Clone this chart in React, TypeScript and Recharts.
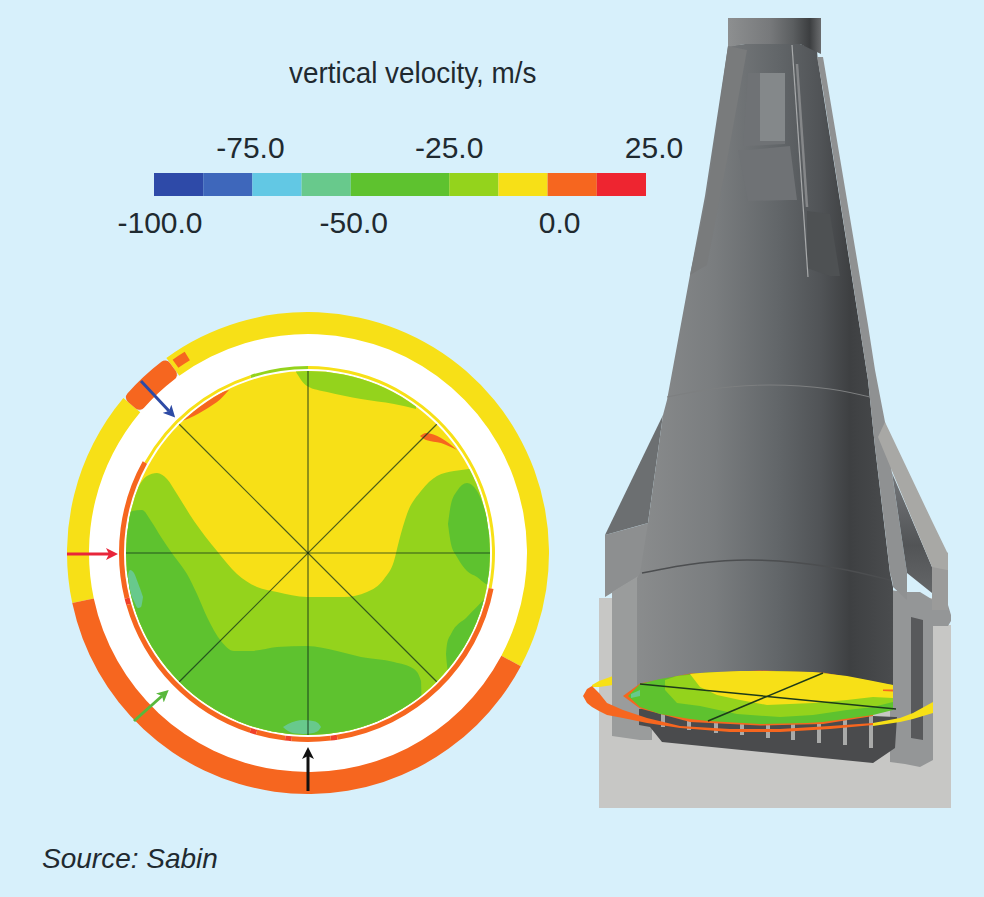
import { Area, Bar, BarChart, Cell, ComposedChart, Line, Pie, PieChart, XAxis, YAxis } from "recharts";

const BG = "#d7f0fb";
const INK = "#1f2a30";
const ORANGE = "#f6661f";
const YELLOW = "#f7e017";
const LIGHT_GREEN = "#94d31c";
const GREEN = "#5ec22f";
const TEAL = "#68c98c";
const FLECK = "#f0402a";

type Row = [number, number, number]; // x, low, high

// colour scale
const scaleColors = ["#2e4aa8", "#3e67bb", "#62c8e4", "#68c98c", GREEN, GREEN, LIGHT_GREEN, YELLOW, ORANGE, "#ee2530"];
const scaleSteps = [12.5, 12.5, 12.5, 12.5, 12.5, 12.5, 12.5, 12.5, 12.5, 12.5];
const upperTicks = [-75, -25, 25];
const lowerTicks = [-100, -50, 0];
const tickNudge: Record<number, number> = { [-100]: 6, [-75]: -2, [-50]: 3, [-25]: 0, 0: 12, 25: 8 };

// outer ring, degrees counter clockwise from -28
const outerRingDeg = [154, 14, 52, 140];
const outerRingColors = [YELLOW, "none", YELLOW, ORANGE];
const ringBlobDeg = [154, 14, 192];
const ringDotDeg = [149.5, 3.5, 207];
// thin ring round the disk, degrees counter clockwise from -11
const thinRingDeg = [101, 18, 43, 198];
const thinRingColors = [YELLOW, LIGHT_GREEN, YELLOW, "none"];
const rimDeg = [162, 43, 2, 56, 2, 9, 2, 12, 2, 70];
const rimColors = ["none", ORANGE, FLECK, ORANGE, FLECK, ORANGE, FLECK, ORANGE, FLECK, ORANGE];

// disk contours, units are pixels from the disk centre
const diskAll: Row[] = [[-182, -182, 182], [182, -182, 182]];
const lightBand: Row[] = [
  [-182, -182, 40], [-172, -182, 62], [-161, -182, 77], [-151, -182, 80], [-141, -182, 74], [-131, -182, 59],
  [-114, -182, 32], [-91, -182, 2], [-71, -182, -21], [-51, -182, -34], [-31, -182, -39], [-1, -182, -44],
  [36, -182, -44], [59, -182, -39], [76, -182, -26], [86, -182, -8], [91, -182, 12], [99, -182, 39],
  [113, -182, 62], [129, -182, 77], [146, -182, 82], [161, -182, 84], [182, -182, 90],
];
const darkLower: Row[] = [
  [-182, -182, 36], [-176, -182, 42], [-166, -182, 43], [-157, -182, 32], [-147, -182, 16], [-134, -182, -3],
  [-121, -182, -21], [-111, -182, -41], [-101, -182, -64], [-87, -182, -88], [-74, -182, -98], [-57, -182, -98],
  [-31, -182, -94], [-1, -182, -93], [29, -182, -98], [53, -182, -104], [86, -182, -109], [106, -182, -116],
  [113, -182, -128], [113.5, -182, -146],
];
const darkRightUpper: Row[] = [
  [140, 29, 29], [143, 9, 49], [149, -4, 62], [159, -18, 70], [169, -24, 62], [178, -31, 39], [183, -33, 19],
];
const darkRightLower: Row[] = [
  [138, -101, -101], [139, -112, -91], [143, -130, -81], [159, -130, -64], [178, -130, -44], [183, -130, -38],
];
const lightTop: Row[] = [
  [-12, 181, 190], [-1, 167, 190], [19, 161, 190], [53, 154, 190], [86, 149, 190], [108, 144, 190],
];
const tealLeft: Row[] = [
  [-180, -22, -22], [-178, -37, -17], [-174, -48, -20], [-170, -55, -30], [-167, -54, -38], [-165, -44, -44],
];
const tealBottom: Row[] = [
  [-25, -174, -174], [-20, -178, -171], [-12, -180.5, -168], [-5, -181, -167], [5, -180, -168], [10, -178, -170], [13, -174, -174],
];
const sliverLeft: Row[] = [[-126, 132, 132], [-114, 137, 143], [-97, 147, 156], [-91, 151, 159], [-79, 163, 163]];
const sliverRight: Row[] = [[112, 117, 117], [118, 113, 120], [133, 110, 115], [149, 103, 103]];

const diskLayers: { rows: Row[]; fill: string }[] = [
  { rows: diskAll, fill: YELLOW },
  { rows: lightBand, fill: LIGHT_GREEN },
  { rows: lightTop, fill: LIGHT_GREEN },
  { rows: darkLower, fill: GREEN },
  { rows: darkRightUpper, fill: GREEN },
  { rows: darkRightLower, fill: GREEN },
  { rows: tealLeft, fill: TEAL },
  { rows: tealBottom, fill: TEAL },
  { rows: sliverLeft, fill: ORANGE },
  { rows: sliverRight, fill: ORANGE },
];

const spokes = [
  [[-182, 0], [182, 0]],
  [[0, -182], [0, 182]],
  [[-129, 129], [129, -129]],
  [[-129, -129], [129, 129]],
];

const arrows = [
  { pts: [[-241, -1], [-199, -1]], color: "#e8263a", id: "headRed", w: 3 },
  { pts: [[-167, 172], [-139, 142]], color: "#2d4aa5", id: "headBlue", w: 3 },
  { pts: [[-174, -168], [-146, -143]], color: "#59b83c", id: "headGreen", w: 3 },
  { pts: [[0, -238], [0, -203]], color: "#111111", id: "headBlack", w: 3 },
];

// burner drawing, page pixels, low and high are y values
const baseBox: Row[] = [[599, 598, 808], [933, 598, 808], [933, 625, 808], [951, 625, 808]];
const finUpper: Row[] = [[605, 535, 535], [648, 446, 523], [663, 415, 415]];
const finLower: Row[] = [[605, 535, 597], [638, 526, 577], [648, 523, 577]];
const towerLeft: Row[] = [[612, 592, 736], [640, 575, 740], [652, 575, 740]];
const darkPanel: Row[] = [[892, 473, 473], [907, 508, 573], [932, 567, 593]];
const strut: Row[] = [[878, 437, 437], [885, 422, 454], [932, 521, 567], [947, 552, 570], [948, 553, 570]];
const strutFoot: Row[] = [[932, 565, 610], [948, 553, 610]];
const towerRight: Row[] = [[890, 590, 762], [905, 592, 764], [920, 592, 767], [933, 600, 760], [933, 605, 626], [948, 605, 626], [951, 615, 621]];
const slot: Row[] = [[911, 617, 738], [923, 620, 740]];
const body: Row[] = [
  [637, 578, 690], [640, 573, 690], [648, 523, 690], [663, 415, 690], [667, 400, 690], [690, 275, 690], [705, 196, 690],
  [728, 46, 690], [745, 44, 690], [800, 44, 690], [817, 50, 690], [817.5, 57, 690], [868, 380, 690], [875, 447, 690], [890, 573, 690], [893, 587, 690],
];
const neck: Row[] = [[728, 18, 47], [745, 18, 44], [800, 18, 44], [821, 18, 54]];
const coneLeftPatch: Row[] = [[690, 275, 275], [707, 196, 265], [728, 46, 155], [747, 50, 50]];
const panelA: Row[] = [[743, 146, 146], [748, 73, 146], [785, 73, 144]];
const panelAInner: Row[] = [[760, 73, 141], [785, 73, 141]];
const panelB: Row[] = [[738, 150, 150], [748, 150, 201], [790, 146, 200], [797, 200, 200]];
const panelDark: Row[] = [[807, 211, 268], [830, 214, 276], [840, 276, 276]];
const rightStrip: Row[] = [
  [817, 57, 57], [823, 57, 90], [868, 325, 380], [875, 370, 447], [885, 422, 530], [890, 460, 573], [892, 473, 580], [893, 480, 587], [907, 573, 600],
];
const platform: Row[] = [[639, 709, 725], [650, 709, 727], [662, 709, 742], [873, 716, 763], [895, 717, 748], [897, 717, 717]];
const vanes: Row[][] = [
  [[661, 712, 727], [665, 712, 727]], [[687, 712, 730], [691, 712, 730]], [[714, 715, 733], [718, 715, 733]],
  [[740, 715, 735], [744, 715, 735]], [[766, 715, 738], [770, 715, 738]], [[791, 715, 740], [795, 715, 740]],
  [[817, 715, 743], [821, 715, 743]], [[843, 715, 745], [847, 715, 745]], [[869, 715, 748], [873, 715, 748]],
];
const ringArmLeft: Row[] = [[592, 685, 687], [599, 681, 687], [613, 676, 685]];
const ringOrangeBand: Row[] = [
  [583, 696, 696], [587, 689, 703], [592, 686, 707], [599, 693, 711], [607, 703, 715], [623, 710, 718], [647, 718, 723],
  [680, 726, 728], [730, 729, 732], [780, 729, 732], [830, 726, 729], [873, 723, 725],
];
const ringArmRight: Row[] = [[873, 723, 726], [900, 718, 722], [913, 713, 719], [933, 702, 713]];
const flatRim: Row[] = [[623, 696, 696], [640, 683.5, 708.5], [690, 673.5, 722], [760, 670.5, 725.5], [823, 672.5, 724], [873, 681.5, 716]];
const flatDisk: Row[] = [
  [628, 696, 696], [640, 684, 707], [660, 679, 714], [690, 674, 719], [708, 672.5, 721], [760, 671, 724],
  [807, 672, 723], [823, 673, 722], [873, 682, 715], [893, 685, 710],
];
const flatLight: Row[] = [
  [665, 680, 690], [677, 676, 703], [700, 674, 706], [737, 680, 714], [780, 680, 717], [813, 690, 715], [847, 690, 710], [873, 690, 707], [893, 695, 702],
];
const flatYellow: Row[] = [
  [690, 674, 674], [700, 673, 687], [717, 672, 695], [740, 671, 700], [767, 671, 705], [813, 672, 703], [847, 676, 700], [873, 681, 697], [893, 685, 698],
];
const flatTeal: Row[] = [[631, 694, 698], [640, 690, 696]];
const flatSliver: Row[] = [[883, 689.5, 691], [893, 689.5, 691.5]];

const burnerLayers: { rows: Row[]; fill: string }[] = [
  { rows: baseBox, fill: "#c7c7c5" },
  { rows: finLower, fill: "#8d8f90" },
  { rows: finUpper, fill: "#6c6f71" },
  { rows: ringArmLeft, fill: YELLOW },
  { rows: towerLeft, fill: "#9a9c9c" },
  { rows: towerRight, fill: "#949697" },
  { rows: slot, fill: "#58595b" },
  { rows: body, fill: "url(#bodyShade)" },
  { rows: neck, fill: "url(#neckShade)" },
  { rows: coneLeftPatch, fill: "#797b7c" },
  { rows: panelA, fill: "#6f7275" },
  { rows: panelAInner, fill: "#84888a" },
  { rows: panelB, fill: "#6f7275" },
  { rows: panelDark, fill: "#4e5153" },
  { rows: rightStrip, fill: "#8f9192" },
  { rows: darkPanel, fill: "url(#panelShade)" },
  { rows: strutFoot, fill: "#9b9b9a" },
  { rows: strut, fill: "#a8a8a5" },
  { rows: platform, fill: "#4a4b4d" },
  ...vanes.map((rows) => ({ rows, fill: "#a9aaa9" })),
  { rows: ringOrangeBand, fill: ORANGE },
  { rows: flatRim, fill: ORANGE },
  { rows: flatDisk, fill: GREEN },
  { rows: flatLight, fill: LIGHT_GREEN },
  { rows: flatYellow, fill: YELLOW },
  { rows: flatTeal, fill: TEAL },
  { rows: flatSliver, fill: ORANGE },
  { rows: ringArmRight, fill: YELLOW },
];

const burnerLines = [
  { pts: [[792, 45], [808, 277]], color: "#a8aaab", w: 1.2 },
  { pts: [[797, 64], [807, 207]], color: "#858789", w: 2.5 },
  { pts: [[667, 397], [720, 388], [770, 385], [830, 389], [870, 397]], color: "#7d7f80", w: 1 },
  { pts: [[642, 573], [700, 563], [747, 560], [830, 567], [890, 580]], color: "#4c4e50", w: 1.5 },
  { pts: [[640, 684], [896, 709]], color: "#1d3a1a", w: 1.5 },
  { pts: [[708, 721], [823, 673]], color: "#1d3a1a", w: 1.5 },
];

const toRows = (rows: Row[]) => rows.map(([x, lo, hi]) => ({ x, lo, hi }));
const toPts = (pts: number[][]) => pts.map(([x, y]) => ({ x, y }));
const range = (d: { lo: number; hi: number }) => [d.lo, d.hi];

const barRow: Record<string, number | string> = { name: "scale", base: -100 };
scaleSteps.forEach((v, i) => {
  barRow["s" + i] = v;
});

function ScaleTick(props: any) {
  const { x, y, payload, up } = props;
  return (
    <text x={x + tickNudge[payload.value]} y={up ? y - 7 : y + 29} textAnchor="middle" fontSize={30} fill={INK} fontFamily="Liberation Sans">
      {payload.value.toFixed(1)}
    </text>
  );
}

function ColorScale() {
  return (
    <BarChart width={600} height={120} layout="vertical" data={[barRow]} barCategoryGap={0}
      margin={{ top: 48, right: 54, left: 54, bottom: 9 }}>
      <XAxis orientation="bottom" type="number" domain={[-100, 25]} ticks={lowerTicks} height={40}
        axisLine={false} tickLine={false} tick={<ScaleTick />} interval={0} />
      <YAxis type="category" dataKey="name" hide />
      <Bar dataKey="base" stackId="a" fill="none" isAnimationActive={false} />
      {scaleColors.map((c, i) => (
        <Bar key={i} dataKey={"s" + i} stackId="a" fill={c} isAnimationActive={false} />
      ))}
    </BarChart>
  );
}

function ScaleUpperLabels() {
  return (
    <BarChart width={600} height={120} layout="vertical" data={[barRow]} barCategoryGap={0}
      margin={{ top: 18, right: 54, left: 54, bottom: 49 }}>
      <XAxis orientation="top" type="number" domain={[-100, 25]} ticks={upperTicks} height={30}
        axisLine={false} tickLine={false} tick={<ScaleTick up />} interval={0} />
      <YAxis type="category" dataKey="name" hide />
      <Bar dataKey="base" fill="none" isAnimationActive={false} />
    </BarChart>
  );
}

function Rings() {
  const ring = { cx: "50%", cy: "50%", stroke: "none", isAnimationActive: false, dataKey: "v" };
  const vals = (a: number[]) => a.map((v) => ({ v }));
  return (
    <PieChart width={482} height={482} margin={{ top: 0, right: 0, bottom: 0, left: 0 }}>
      <Pie {...ring} data={vals([360])} innerRadius={0} outerRadius={220} fill="#ffffff" />
      <Pie {...ring} data={vals(outerRingDeg)} innerRadius={219} outerRadius={241} startAngle={-28} endAngle={332}>
        {outerRingColors.map((c, i) => <Cell key={i} fill={c} />)}
      </Pie>
      <Pie {...ring} data={vals(ringBlobDeg)} innerRadius={219} outerRadius={241} startAngle={-28} endAngle={332} cornerRadius={6}>
        <Cell fill="none" />
        <Cell fill={ORANGE} />
        <Cell fill="none" />
      </Pie>
      <Pie {...ring} data={vals(ringDotDeg)} innerRadius={226} outerRadius={236} startAngle={-28} endAngle={332}>
        <Cell fill="none" />
        <Cell fill={ORANGE} />
        <Cell fill="none" />
      </Pie>
      <Pie {...ring} data={vals(thinRingDeg)} innerRadius={184} outerRadius={187} startAngle={-11} endAngle={349}>
        {thinRingColors.map((c, i) => <Cell key={i} fill={c} />)}
      </Pie>
      <Pie {...ring} data={vals(rimDeg)} innerRadius={184} outerRadius={189} startAngle={-11} endAngle={349}>
        {rimColors.map((c, i) => <Cell key={i} fill={c} />)}
      </Pie>
    </PieChart>
  );
}

function Disk() {
  return (
    <ComposedChart width={364} height={364} margin={{ top: 0, right: 0, bottom: 0, left: 0 }}>
      <XAxis type="number" dataKey="x" domain={[-182, 182]} hide allowDataOverflow />
      <YAxis type="number" domain={[-182, 182]} hide allowDataOverflow />
      {diskLayers.map((l, i) => (
        <Area key={i} data={toRows(l.rows)} dataKey={range} type="monotone" fill={l.fill} fillOpacity={1} stroke="none"
          dot={false} activeDot={false} isAnimationActive={false} />
      ))}
      {spokes.map((s, i) => (
        <Line key={i} data={toPts(s)} dataKey="y" stroke="#12301a" strokeOpacity={0.75} strokeWidth={1.2} dot={false}
          activeDot={false} isAnimationActive={false} />
      ))}
    </ComposedChart>
  );
}

function Arrows() {
  return (
    <ComposedChart width={482} height={482} margin={{ top: 0, right: 0, bottom: 0, left: 0 }}>
      <defs>
        {arrows.map((a) => (
          <marker key={a.id} id={a.id} markerWidth={4} markerHeight={4} refX={1} refY={2} orient="auto">
            <path d="M0,0 L4,2 L0,4 L1,2 Z" fill={a.color} />
          </marker>
        ))}
      </defs>
      <XAxis type="number" dataKey="x" domain={[-241, 241]} hide allowDataOverflow />
      <YAxis type="number" domain={[-241, 241]} hide allowDataOverflow />
      {arrows.map((a) => (
        <Line key={a.id} data={toPts(a.pts)} dataKey="y" stroke={a.color} strokeWidth={a.w} dot={false} activeDot={false}
          markerEnd={`url(#${a.id})`} isAnimationActive={false} />
      ))}
    </ComposedChart>
  );
}

function Burner() {
  return (
    <ComposedChart width={984} height={897} margin={{ top: 0, right: 0, bottom: 0, left: 0 }}>
      <defs>
        <linearGradient id="bodyShade" x1="0" y1="0" x2="1" y2="0">
          <stop offset="0" stopColor="#8a8c8d" />
          <stop offset="0.3" stopColor="#7a7d7f" />
          <stop offset="0.55" stopColor="#626669" />
          <stop offset="0.72" stopColor="#505356" />
          <stop offset="0.83" stopColor="#3e4042" />
          <stop offset="1" stopColor="#4a4c4e" />
        </linearGradient>
        <linearGradient id="neckShade" x1="0" y1="0" x2="1" y2="0">
          <stop offset="0" stopColor="#8d8f90" />
          <stop offset="0.45" stopColor="#77797b" />
          <stop offset="0.7" stopColor="#5b5e60" />
          <stop offset="0.88" stopColor="#3c3e40" />
          <stop offset="1" stopColor="#6a6c6e" />
        </linearGradient>
        <linearGradient id="panelShade" x1="0" y1="0" x2="0" y2="1">
          <stop offset="0" stopColor="#74777a" />
          <stop offset="0.6" stopColor="#525456" />
          <stop offset="1" stopColor="#646668" />
        </linearGradient>
      </defs>
      <XAxis type="number" dataKey="x" domain={[0, 984]} hide allowDataOverflow />
      <YAxis type="number" domain={[0, 897]} reversed hide allowDataOverflow />
      {burnerLayers.map((l, i) => (
        <Area key={i} data={toRows(l.rows)} dataKey={range} type="linear" fill={l.fill} fillOpacity={1} stroke="none"
          dot={false} activeDot={false} isAnimationActive={false} />
      ))}
      {burnerLines.map((l, i) => (
        <Line key={i} data={toPts(l.pts)} dataKey="y" type={l.pts.length > 2 ? "monotone" : "linear"} stroke={l.color}
          strokeWidth={l.w} dot={false} activeDot={false} isAnimationActive={false} />
      ))}
    </ComposedChart>
  );
}

const abs = (left: number, top: number) => ({ position: "absolute" as const, left, top });

export default function App() {
  return (
    <div style={{ position: "absolute", left: 0, top: 0, width: 984, height: 897, background: BG, overflow: "hidden" }}>
      <div style={abs(0, 0)}><Burner /></div>
      <div style={abs(100, 125)}><ColorScale /></div>
      <div style={abs(100, 125)}><ScaleUpperLabels /></div>
      <div style={{ ...abs(289, 56), fontFamily: "Liberation Sans", fontSize: 30, color: INK, whiteSpace: "nowrap", transform: "scaleX(0.93)", transformOrigin: "left" }}>
        vertical velocity, m/s
      </div>
      <div style={abs(67, 312)}><Rings /></div>
      <div style={{ ...abs(126, 371), width: 364, height: 364, borderRadius: "50%", overflow: "hidden" }}><Disk /></div>
      <div style={abs(67, 312)}><Arrows /></div>
      <div style={{ ...abs(42, 843), fontFamily: "Liberation Sans", fontStyle: "italic", fontSize: 28, color: INK, whiteSpace: "nowrap" }}>
        Source: Sabin
      </div>
    </div>
  );
}
